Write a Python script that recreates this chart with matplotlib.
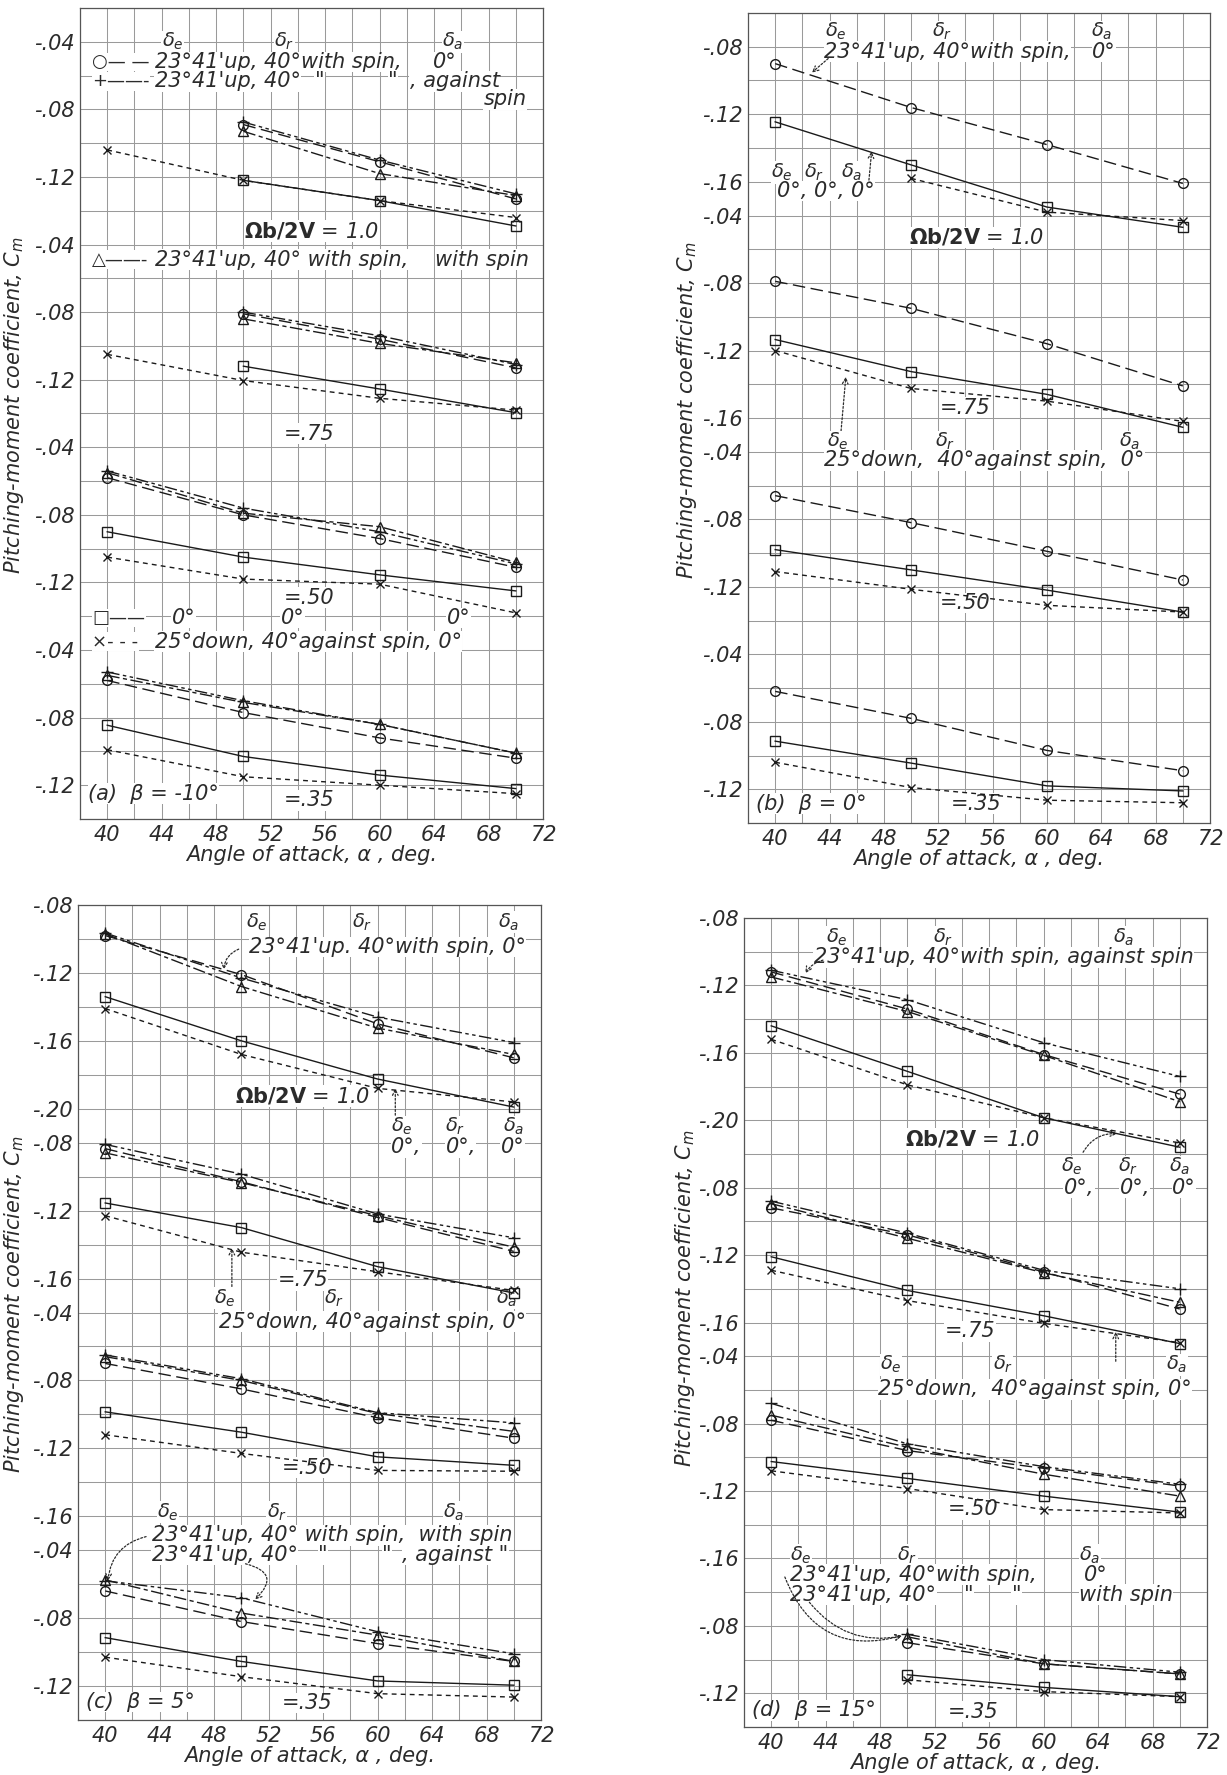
import numpy as np
import matplotlib.pyplot as plt

plt.rcParams['font.family'] = ['DejaVu Sans']
plt.rcParams['mathtext.fontset'] = 'dejavusans'

NaN = np.nan
alpha = [40, 50, 60, 70]
rate_groups = ['1.0', '.75', '.50', '.35']   # Omega b / 2V, top to bottom

# (a) beta = -10 deg, one row per rate group
a_o = [[NaN, -.089, -.111, -.133], [NaN, -.081, -.096, -.113], [-.058, -.080, -.094, -.111], [-.058, -.077, -.092, -.104]]
a_plus = [[NaN, -.0875, -.110, -.130], [NaN, -.080, -.094, -.111], [-.054, -.076, -.090, -.109], [-.053, -.070, -.084, -.101]]
a_tri = [[NaN, -.093, -.118, -.131], [NaN, -.084, -.0985, -.110], [-.055, -.079, -.087, -.108], [-.055, -.071, -.084, -.101]]
a_sq = [[NaN, -.122, -.134, -.149], [NaN, -.112, -.1255, -.1395], [-.090, -.105, -.1155, -.125], [-.0845, -.103, -.114, -.122]]
a_x = [[-.104, -.122, -.134, -.144], [-.105, -.1205, -.131, -.138], [-.105, -.118, -.121, -.138], [-.099, -.115, -.120, -.125]]

# (b) beta = 0 deg
b_o = [[-.090, -.116, -.138, -.161], [-.079, -.095, -.116, -.141], [-.066, -.082, -.099, -.116], [-.062, -.078, -.097, -.109]]
b_sq = [[-.1245, -.150, -.175, -.187], [-.1135, -.1325, -.146, -.1655], [-.098, -.110, -.122, -.135], [-.0915, -.1045, -.118, -.121]]
b_x = [[NaN, -.158, -.178, -.183], [-.120, -.1425, -.150, -.162], [-.111, -.1215, -.131, -.135], [-.104, -.119, -.1265, -.128]]

# (c) beta = 5 deg
c_o = [[-.098, -.121, -.150, -.170], [-.0835, -.103, -.124, -.144], [-.070, -.085, -.102, -.114], [-.064, -.082, -.095, -.1055]]
c_plus = [[-.0965, -.123, -.146, -.161], [-.081, -.0985, -.122, -.136], [-.065, -.079, -.099, -.105], [-.058, -.068, -.088, -.101]]
c_tri = [[-.097, -.128, -.1525, -.168], [-.086, -.1035, -.123, -.1415], [-.066, -.080, -.0995, -.110], [-.0575, -.077, -.090, -.1055]]
c_sq = [[-.134, -.160, -.1825, -.199], [-.1155, -.130, -.153, -.1685], [-.0985, -.1105, -.125, -.130], [-.0915, -.1055, -.117, -.1195]]
c_x = [[-.141, -.168, -.188, -.196], [-.123, -.1445, -.156, -.167], [-.112, -.123, -.133, -.1335], [-.103, -.1145, -.1245, -.1265]]

# (d) beta = 15 deg
d_o = [[-.112, -.134, -.161, -.1845], [-.092, -.108, -.130, -.152], [-.078, -.096, -.1065, -.117], [NaN, -.090, -.1025, -.1085]]
d_plus = [[-.111, -.1285, -.154, -.174], [-.088, -.107, -.129, -.140], [-.068, -.092, -.1055, -.116], [NaN, -.085, -.100, -.1075]]
d_tri = [[-.115, -.1355, -.1615, -.189], [-.0895, -.110, -.1305, -.148], [-.075, -.094, -.110, -.123], [NaN, -.0865, -.1025, -.1085]]
d_sq = [[-.144, -.171, -.1985, -.216], [-.121, -.141, -.156, -.1725], [-.1025, -.1125, -.123, -.1325], [NaN, -.109, -.1165, -.122]]
d_x = [[-.152, -.179, -.1985, -.2135], [-.129, -.147, -.1605, -.172], [-.108, -.1185, -.131, -.133], [NaN, -.112, -.119, -.122]]

# y-axis scale per panel: labelled ticks of each stacked group
a_ticks = [[-.04, -.08, -.12]] * 4
b_ticks = [[-.08, -.12, -.16], [-.04, -.08, -.12, -.16], [-.04, -.08, -.12], [-.04, -.08, -.12]]
c_ticks = [[-.08, -.12, -.16, -.20], [-.08, -.12, -.16], [-.04, -.08, -.12, -.16], [-.04, -.08, -.12]]
d_ticks = [[-.08, -.12, -.16, -.20], [-.08, -.12, -.16], [-.04, -.08, -.12, -.16], [-.08, -.12]]

INK = '#2b2b2b'
FS = 15
LS = {
    'o': dict(marker='o', ls=(0, (9, 4)), ms=7),
    '+': dict(marker='+', ls=(0, (9, 2.5, 2.5, 2.5, 2.5, 2.5)), ms=9),
    '^': dict(marker='^', ls=(0, (9, 2.5, 3, 2.5)), ms=7),
    's': dict(marker='s', ls='-', ms=7),
    'x': dict(marker='x', ls=(0, (3.5, 3)), ms=6),
}

W, H = 1227, 1775
fig = plt.figure(figsize=(W / 100, H / 100), dpi=100)


def make_axes(l, t, r, b):
    return fig.add_axes([l / W, 1 - b / H, (r - l) / W, (b - t) / H])


def setup(ax, top, ticks, offsets):
    ax.set_xlim(38, 72)
    ax.set_ylim(top - 0.48, top)
    ax.set_xticks(range(40, 73, 4))
    ax.set_xticks(np.arange(38, 72.1, 2), minor=True)
    pos, lab = [], []
    for k, tk in enumerate(ticks):
        for v in tk:
            pos.append(v + offsets[k])
            lab.append('-.%02d' % round(-v * 100))
    ax.set_yticks(pos)
    ax.set_yticklabels(lab)
    ax.set_yticks(np.arange(top - 0.48, top + 0.001, 0.02), minor=True)
    ax.set_axisbelow(True)
    ax.grid(which='both', color='#9a9a9a', lw=0.75)
    ax.tick_params(which='both', length=0, labelsize=FS, colors=INK)
    ax.tick_params(axis='y', pad=4)
    ax.tick_params(axis='x', pad=4)
    for t in ax.get_xticklabels() + ax.get_yticklabels():
        t.set_style('italic')
    for s in ax.spines.values():
        s.set_color('#555555')
        s.set_linewidth(0.9)
    ax.set_xlabel('Angle of attack, α , deg.', fontsize=FS, style='italic', color=INK, labelpad=0)


def curves(ax, offsets, series):
    for vals, key in series:
        st = LS[key]
        for k, row in enumerate(vals):
            y = np.array(row) + offsets[k]
            ax.plot(alpha, y, color='#1a1a1a', lw=1.0, ls=st['ls'], marker=st['marker'],
                    ms=st['ms'], mfc='none', mec='#1a1a1a', mew=1.0, zorder=3)


def put(ax, x, y, s, ha='center', size=FS, style='italic'):
    ax.text(x, y, s, ha=ha, va='center', fontsize=size, style=style, color=INK,
            bbox=dict(fc='white', ec='none', pad=0.3), zorder=2)


def key(ax, x, y, s):
    put(ax, x, y, s, ha='left', size=FS - 2, style='normal')


def deltas(ax, y, xs, size=FS - 1):
    for x, s in zip(xs, (r'$\delta_e$', r'$\delta_r$', r'$\delta_a$')):
        put(ax, x, y, s, size=size)


def arrow(ax, start, tip, rad=0.0):
    ax.annotate('', xy=tip, xytext=start,
                arrowprops=dict(arrowstyle='->', ls=(0, (1.5, 1.5)), lw=0.9, color=INK,
                                connectionstyle='arc3,rad=%s' % rad, shrinkA=0, shrinkB=0),
                zorder=2)


def ylabel(ax, x, y):
    ax.text(x, y, 'Pitching-moment coefficient, $C_m$', transform=ax.transAxes, rotation=90,
            ha='center', va='center', fontsize=FS, style='italic', color=INK)


RATE1 = r'$\mathbf{\Omega b/2V}$ = 1.0'

# ---------------- (a)
ax = make_axes(80, 8, 543, 819)
off = [0, -0.12, -0.24, -0.36]
setup(ax, -0.02, a_ticks, off)
curves(ax, off, [(a_sq, 's'), (a_x, 'x'), (a_o, 'o'), (a_plus, '+'), (a_tri, '^')])
g = lambda k, v: v + off[k]
deltas(ax, g(0, -.040), (44.8, 53.0, 65.4))
key(ax, 38.9, g(0, -.052), '○— —')
put(ax, 43.5, g(0, -.052), "23°41'up, 40°with spin,", ha='left')
put(ax, 64.8, g(0, -.052), '0°')
key(ax, 38.9, g(0, -.0635), '+——-')
put(ax, 43.5, g(0, -.0635), "23°41'up, 40°", ha='left')
put(ax, 55.6, g(0, -.0635), '"')
put(ax, 61.0, g(0, -.0635), '"')
put(ax, 62.2, g(0, -.0635), ', against', ha='left')
put(ax, 70.8, g(0, -.074), 'spin', ha='right')
put(ax, 55.0, g(0, -.152), RATE1)
key(ax, 38.9, g(1, -.049), '△——-')
put(ax, 43.5, g(1, -.049), "23°41'up, 40° with spin,", ha='left')
put(ax, 71.0, g(1, -.049), 'with spin', ha='right')
put(ax, 54.8, g(1, -.152), '=.75')
put(ax, 54.8, g(2, -.129), '=.50')
key(ax, 38.9, g(2, -.141), '□——')
put(ax, 45.6, g(2, -.141), '0°')
put(ax, 53.6, g(2, -.141), '0°')
put(ax, 65.8, g(2, -.141), '0°')
key(ax, 38.9, g(2, -.155), '×- - -')
put(ax, 43.5, g(2, -.155), '25°down, 40°against spin, 0°', ha='left')
put(ax, 38.6, g(3, -.125), '(a)  β = -10°', ha='left')
put(ax, 54.8, g(3, -.129), '=.35')
ylabel(ax, -0.142, 0.51)

# ---------------- (b)
ax = make_axes(748, 13, 1210, 823)
off = [0, -0.14, -0.28, -0.40]
setup(ax, -0.06, b_ticks, off)
curves(ax, off, [(b_sq, 's'), (b_x, 'x'), (b_o, 'o')])
g = lambda k, v: v + off[k]
deltas(ax, g(0, -.071), (44.5, 52.3, 64.0))
put(ax, 43.6, g(0, -.083), "23°41'up, 40°with spin,", ha='left')
put(ax, 64.2, g(0, -.083), '0°')
arrow(ax, (43.9, g(0, -.087)), (42.7, g(0, -.0953)))
deltas(ax, g(0, -.1545), (40.5, 42.9, 45.6))
put(ax, 40.1, g(0, -.1655), '0°, 0°, 0°', ha='left')
arrow(ax, (46.9, g(0, -.159)), (47.1, g(0, -.142)))
put(ax, 54.8, g(0, -.193), RATE1)
put(ax, 54.0, g(1, -.154), '=.75')
arrow(ax, (44.8, g(1, -.172)), (45.2, g(1, -.1356)))
deltas(ax, g(2, -.034), (44.6, 52.5, 66.1))
put(ax, 43.6, g(2, -.045), '25°down,  40°against spin,  0°', ha='left')
put(ax, 54.0, g(2, -.1296), '=.50')
put(ax, 38.6, g(3, -.1285), '(b)  β = 0°', ha='left')
put(ax, 54.8, g(3, -.1285), '=.35')
ylabel(ax, -0.132, 0.51)

# ---------------- (c)
ax = make_axes(78, 905, 541, 1720)
off = [0, -0.14, -0.28, -0.42]
setup(ax, -0.08, c_ticks, off)
curves(ax, off, [(c_sq, 's'), (c_x, 'x'), (c_o, 'o'), (c_plus, '+'), (c_tri, '^')])
g = lambda k, v: v + off[k]
deltas(ax, g(0, -.090), (51.1, 58.9, 69.6))
put(ax, 70.9, g(0, -.1047), "23°41'up. 40°with spin, 0°", ha='right')
arrow(ax, (49.8, g(0, -.106)), (48.7, g(0, -.118)), rad=0.3)
put(ax, 54.5, g(0, -.1925), RATE1)
arrow(ax, (61.3, g(0, -.206)), (61.3, g(0, -.188)))
deltas(ax, g(0, -.2106), (61.8, 65.7, 70.0))
put(ax, 62.1, g(0, -.2226), '0°,')
put(ax, 66.1, g(0, -.2226), '0°,')
put(ax, 69.9, g(0, -.2226), '0°')
put(ax, 54.5, g(1, -.161), '=.75')
arrow(ax, (49.3, g(1, -.1735)), (49.3, g(1, -.142)))
deltas(ax, g(1, -.1715), (48.8, 56.8, 69.5))
put(ax, 70.9, g(1, -.1855), '25°down, 40°against spin, 0°', ha='right')
put(ax, 54.8, g(2, -.1313), '=.50')
deltas(ax, g(2, -.1575), (44.6, 52.6, 65.6))
put(ax, 43.4, g(2, -.1712), "23°41'up, 40° with spin,  with spin", ha='left')
put(ax, 43.4, g(2, -.1828), "23°41'up, 40°", ha='left')
put(ax, 56.0, g(2, -.1828), '"')
put(ax, 60.7, g(2, -.1828), '"')
put(ax, 61.8, g(2, -.1828), ', against "', ha='left')
arrow(ax, (43.0, g(2, -.172)), (40.2, g(3, -.058)), rad=0.35)
arrow(ax, (50.3, g(2, -.188)), (51.0, g(3, -.069)), rad=-0.9)
put(ax, 38.6, g(3, -.1294), '(c)  β = 5°', ha='left')
put(ax, 54.8, g(3, -.130), '=.35')
ylabel(ax, -0.138, 0.51)

# ---------------- (d)
ax = make_axes(744, 918, 1207, 1727)
off = [0, -0.16, -0.30, -0.42]
setup(ax, -0.08, d_ticks, off)
curves(ax, off, [(d_sq, 's'), (d_x, 'x'), (d_o, 'o'), (d_plus, '+'), (d_tri, '^')])
g = lambda k, v: v + off[k]
deltas(ax, g(0, -.0913), (44.8, 52.6, 65.9))
put(ax, 71.0, g(0, -.1033), "23°41'up, 40°with spin, against spin", ha='right')
arrow(ax, (43.8, g(0, -.105)), (42.5, g(0, -.1128)), rad=0.2)
put(ax, 54.8, g(0, -.2113), RATE1)
arrow(ax, (62.9, g(0, -.219)), (65.4, g(0, -.208)), rad=-0.3)
deltas(ax, g(0, -.2276), (62.1, 66.2, 70.0))
put(ax, 62.6, g(0, -.240), '0°,')
put(ax, 66.7, g(0, -.240), '0°,')
put(ax, 70.3, g(0, -.240), '0°')
put(ax, 54.6, g(1, -.1652), '=.75')
arrow(ax, (65.3, g(2, -.043)), (65.3, g(2, -.0255)))
deltas(ax, g(2, -.045), (48.8, 57.0, 69.8))
put(ax, 70.9, g(2, -.0597), '25°down,  40°against spin, 0°', ha='right')
put(ax, 54.8, g(2, -.1309), '=.50')
deltas(ax, g(2, -.158), (42.2, 50.0, 63.4))
put(ax, 41.4, g(2, -.1696), "23°41'up, 40°with spin,", ha='left')
put(ax, 63.8, g(2, -.1696), '0°')
put(ax, 41.4, g(2, -.1815), "23°41'up, 40°", ha='left')
put(ax, 54.5, g(2, -.1815), '"')
put(ax, 58.0, g(2, -.1815), '"')
put(ax, 62.6, g(2, -.1815), 'with spin', ha='left')
arrow(ax, (41.0, g(2, -.171)), (49.6, g(3, -.0858)), rad=0.45)
arrow(ax, (42.8, g(2, -.186)), (49.6, g(3, -.086)), rad=0.3)
put(ax, 38.6, g(3, -.1302), '(d)  β = 15°', ha='left')
put(ax, 54.8, g(3, -.131), '=.35')
ylabel(ax, -0.128, 0.53)

fig.savefig('out.png', dpi=100, facecolor='white')
